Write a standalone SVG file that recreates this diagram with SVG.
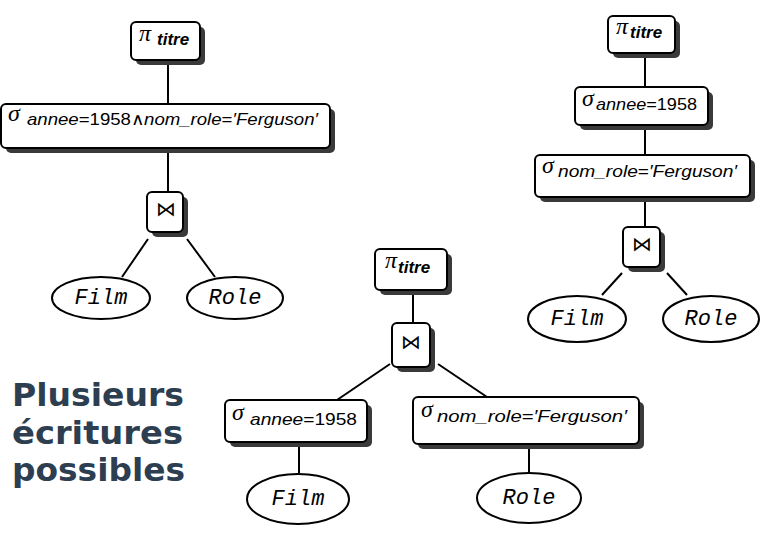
<svg xmlns="http://www.w3.org/2000/svg" width="769" height="543" viewBox="0 0 769 543">
<style>
.box{fill:#fff;stroke:#000;stroke-width:2}
.sh{fill:#3a3a3a}
.edge{stroke:#000;stroke-width:2;fill:none}
.ell{fill:#fff;stroke:#000;stroke-width:2}
.rel{font-family:"Liberation Mono",monospace;font-style:italic;font-size:22px;text-anchor:middle;fill:#000}
.op{font-family:"Liberation Serif",serif;font-style:italic;font-size:24px;fill:#000}
.sub{font-family:"Liberation Sans",sans-serif;font-style:italic;font-size:17px;fill:#000}
.up{font-style:normal}
.join{font-family:"DejaVu Sans",sans-serif;font-size:20px;text-anchor:middle;fill:#000}
.title{font-family:"DejaVu Sans",sans-serif;font-weight:bold;font-size:32px;fill:#2c3e50}
</style>
<rect width="769" height="543" fill="#fff"/>

<g id="connectors">
  <line class="edge" x1="168" y1="60" x2="168" y2="104"/>
  <line class="edge" x1="168" y1="148" x2="168" y2="192"/>
  <line class="edge" x1="148" y1="239" x2="122" y2="277"/>
  <line class="edge" x1="187" y1="239" x2="215" y2="277"/>

  <line class="edge" x1="645" y1="53" x2="645" y2="87"/>
  <line class="edge" x1="645" y1="125" x2="645" y2="155"/>
  <line class="edge" x1="645" y1="197" x2="645" y2="227"/>
  <line class="edge" x1="622" y1="273" x2="602" y2="295"/>
  <line class="edge" x1="667" y1="273" x2="687" y2="295"/>

  <line class="edge" x1="413" y1="290" x2="413" y2="323"/>
  <line class="edge" x1="390" y1="364" x2="337" y2="400"/>
  <line class="edge" x1="438" y1="364" x2="487" y2="397"/>
  <line class="edge" x1="299" y1="442" x2="299" y2="473"/>
  <line class="edge" x1="529" y1="444" x2="529" y2="472"/>
</g>

<!-- Tree 1 -->
<g id="t1-proj">
  <rect class="sh" x="136" y="27" width="69" height="38" rx="5"/>
  <rect class="box" x="131" y="22" width="69" height="38" rx="5"/>
  <text class="op" x="139" y="41">π</text>
  <text class="sub" x="157" y="45" font-weight="bold">titre</text>
</g>
<g id="t1-sel">
  <rect class="sh" x="6" y="109" width="329" height="44" rx="5"/>
  <rect class="box" x="1" y="104" width="329" height="44" rx="5"/>
  <text class="op" x="8" y="121">σ</text>
  <text class="sub" x="27" y="125" textLength="291" lengthAdjust="spacingAndGlyphs">annee<tspan class="up">=1958∧</tspan>nom_role<tspan class="up">=</tspan>′Ferguson′</text>
</g>
<g id="t1-join">
  <rect class="sh" x="152" y="197" width="36" height="40" rx="5"/>
  <rect class="box" x="147" y="192" width="36" height="40" rx="5"/>
  <text class="join" x="166" y="216">⋈</text>
</g>
<g id="t1-film">
  <ellipse class="ell" cx="101" cy="298" rx="49" ry="21"/>
  <text class="rel" x="101" y="304">Film</text>
</g>
<g id="t1-role">
  <ellipse class="ell" cx="235" cy="298" rx="48" ry="21"/>
  <text class="rel" x="235" y="304">Role</text>
</g>

<!-- Tree 2 -->
<g id="t2-proj">
  <rect class="sh" x="613" y="21" width="67" height="37" rx="5"/>
  <rect class="box" x="608" y="16" width="67" height="37" rx="5"/>
  <text class="op" x="616" y="34">π</text>
  <text class="sub" x="630" y="38" font-weight="bold">titre</text>
</g>
<g id="t2-sel1">
  <rect class="sh" x="580" y="92" width="133" height="38" rx="5"/>
  <rect class="box" x="575" y="87" width="133" height="38" rx="5"/>
  <text class="op" x="582" y="106">σ</text>
  <text class="sub" x="596" y="110" textLength="101" lengthAdjust="spacingAndGlyphs">annee<tspan class="up">=1958</tspan></text>
</g>
<g id="t2-sel2">
  <rect class="sh" x="540" y="160" width="215" height="42" rx="5"/>
  <rect class="box" x="535" y="155" width="215" height="42" rx="5"/>
  <text class="op" x="542" y="173">σ</text>
  <text class="sub" x="558" y="177" textLength="179" lengthAdjust="spacingAndGlyphs">nom_role<tspan class="up">=</tspan>′Ferguson′</text>
</g>
<g id="t2-join">
  <rect class="sh" x="628" y="232" width="37" height="40" rx="5"/>
  <rect class="box" x="623" y="227" width="37" height="40" rx="5"/>
  <text class="join" x="642" y="251">⋈</text>
</g>
<g id="t2-film">
  <ellipse class="ell" cx="577" cy="319" rx="49" ry="23"/>
  <text class="rel" x="577" y="325">Film</text>
</g>
<g id="t2-role">
  <ellipse class="ell" cx="711" cy="319" rx="48" ry="23"/>
  <text class="rel" x="711" y="325">Role</text>
</g>

<!-- Tree 3 -->
<g id="t3-proj">
  <rect class="sh" x="380" y="254" width="72" height="41" rx="5"/>
  <rect class="box" x="375" y="249" width="72" height="41" rx="5"/>
  <text class="op" x="385" y="268">π</text>
  <text class="sub" x="398" y="273" font-weight="bold">titre</text>
</g>
<g id="t3-join">
  <rect class="sh" x="397" y="328" width="38" height="44" rx="5"/>
  <rect class="box" x="392" y="323" width="38" height="44" rx="5"/>
  <text class="join" x="411" y="349">⋈</text>
</g>
<g id="t3-sel1">
  <rect class="sh" x="230" y="405" width="142" height="42" rx="5"/>
  <rect class="box" x="225" y="400" width="142" height="42" rx="5"/>
  <text class="op" x="232" y="420">σ</text>
  <text class="sub" x="250" y="425" textLength="107" lengthAdjust="spacingAndGlyphs">annee<tspan class="up">=1958</tspan></text>
</g>
<g id="t3-sel2">
  <rect class="sh" x="418" y="402" width="226" height="47" rx="5"/>
  <rect class="box" x="413" y="397" width="226" height="47" rx="5"/>
  <text class="op" x="421" y="417">σ</text>
  <text class="sub" x="437" y="422" textLength="190" lengthAdjust="spacingAndGlyphs">nom_role<tspan class="up">=</tspan>′Ferguson′</text>
</g>
<g id="t3-film">
  <ellipse class="ell" cx="298" cy="499" rx="51" ry="25"/>
  <text class="rel" x="298" y="505">Film</text>
</g>
<g id="t3-role">
  <ellipse class="ell" cx="529" cy="498" rx="52" ry="25"/>
  <text class="rel" x="529" y="504">Role</text>
</g>

<g id="caption">
  <text class="title" x="12" y="406" textLength="172" lengthAdjust="spacingAndGlyphs">Plusieurs</text>
  <text class="title" x="12" y="444" textLength="171" lengthAdjust="spacingAndGlyphs">écritures</text>
  <text class="title" x="12" y="481" textLength="173" lengthAdjust="spacingAndGlyphs">possibles</text>
</g>
</svg>
